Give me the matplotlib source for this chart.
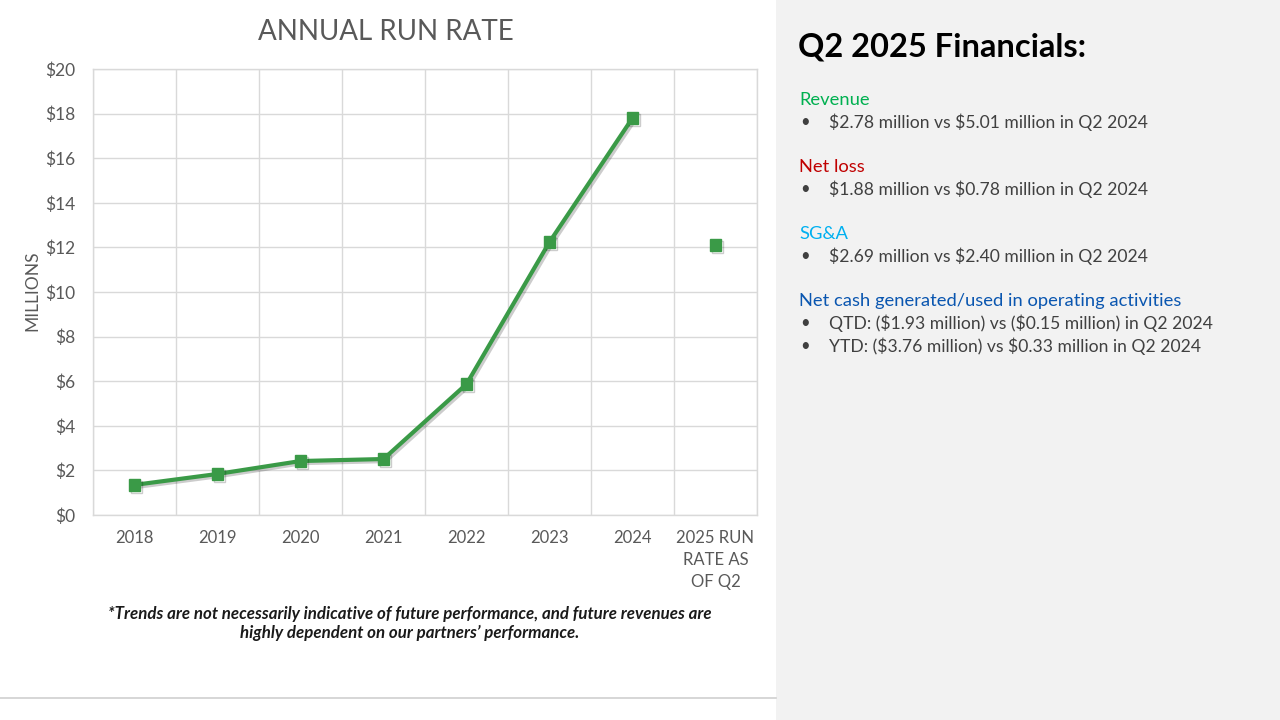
import matplotlib
matplotlib.use("Agg")
import matplotlib.pyplot as plt
import matplotlib.patheffects as pe
from matplotlib.patches import Rectangle
from matplotlib.lines import Line2D

plt.rcParams["text.parse_math"] = False
plt.rcParams["font.family"] = ["Lato", "DejaVu Sans"]

categories = ["2018", "2019", "2020", "2021", "2022", "2023", "2024", "2025 RUN\nRATE AS\nOF Q2"]
history_values = [1.35, 1.84, 2.42, 2.51, 5.87, 12.24, 17.80]
run_rate_2025 = 12.1
y_ticks = [0, 2, 4, 6, 8, 10, 12, 14, 16, 18, 20]
y_tick_labels = ["$%d" % v for v in y_ticks]

GREEN = "#3a9a47"
GRAY_TXT = "#595959"
GRID = "#d9d9d9"

fig = plt.figure(figsize=(12.8, 7.2), dpi=100)
fig.patch.set_facecolor("white")

# right panel background
fig.add_artist(Rectangle((776/1280, 0), 1 - 776/1280, 1, transform=fig.transFigure,
                         facecolor="#f2f2f2", edgecolor="none", zorder=0))
# bottom rule on the left
fig.add_artist(Line2D([0, 776/1280], [1 - 698/720]*2, transform=fig.transFigure,
                      color="#d0d0d0", lw=1.2))

ax = fig.add_axes([93/1280, 1 - 515/720, (757-93)/1280, (515-69)/720])
x = list(range(len(history_values)))
shadow = [pe.SimpleLineShadow(offset=(1.5, -1.5), shadow_color="#000000", alpha=0.2), pe.Normal()]
ax.plot(x, history_values, color=GREEN, lw=3, marker="s", ms=8.5, zorder=3,
        path_effects=shadow, solid_joinstyle="round")
ax.plot([len(categories) - 1], [run_rate_2025], color=GREEN, lw=0, marker="s", ms=8.5,
        zorder=3, path_effects=shadow)

ax.set_xlim(-0.5, len(categories) - 0.5)
ax.set_ylim(0, 20)
ax.set_yticks(y_ticks)
ax.set_yticklabels(y_tick_labels)
ax.set_xticks(range(len(categories)))
ax.set_xticklabels(categories, linespacing=1.45, va="top")
ax.set_xticks([i + 0.5 for i in range(-1, len(categories))], minor=True)
ax.grid(True, which="minor", axis="x", color=GRID, lw=1)
ax.grid(True, which="major", axis="y", color=GRID, lw=1)
ax.set_axisbelow(True)
for s in ax.spines.values():
    s.set_color(GRID)
    s.set_linewidth(1)
ax.tick_params(axis="both", which="both", length=0, colors=GRAY_TXT, labelsize=12)
ax.tick_params(axis="x", pad=11)
ax.tick_params(axis="y", pad=13)
for lab in ax.get_yticklabels():
    lab.set_fontsize(12.5)

fig.text(32/1280, 1 - 291/720, "MILLIONS", rotation=90, ha="center", va="center",
         color=GRAY_TXT, fontsize=12.5)
fig.text(386/1280, 1 - 32/720, "ANNUAL RUN RATE", ha="center", va="center",
         color=GRAY_TXT, fontsize=20)

fig.text(410/1280, 1 - 614/720,
         "*Trends are not necessarily indicative of future performance, and future revenues are",
         ha="center", va="center", fontsize=12.2, style="italic", fontweight="bold", color="#1a1a1a")
fig.text(410/1280, 1 - 633/720, "highly dependent on our partners\u2019 performance.",
         ha="center", va="center", fontsize=12.2, style="italic", fontweight="bold", color="#1a1a1a")

# right panel text
fig.text(798/1280, 1 - 47/720, "Q2 2025 Financials:", ha="left", va="center",
         fontsize=23.5, fontweight="bold", color="black")

sections = [
    ("Revenue", "#00b050", 100, ["$2.78 million vs $5.01 million in Q2 2024"]),
    ("Net loss", "#c00000", 167, ["$1.88 million vs $0.78 million in Q2 2024"]),
    ("SG&A", "#00b0f0", 234, ["$2.69 million vs $2.40 million in Q2 2024"]),
    ("Net cash generated/used in operating activities", "#0a56b0", 301,
     ["QTD: ($1.93 million) vs ($0.15 million) in Q2 2024",
      "YTD: ($3.76 million) vs $0.33 million in Q2 2024"]),
]
for head, col, yy, bullets in sections:
    fig.text(799/1280, 1 - yy/720, head, ha="left", va="center", fontsize=13.2, color=col)
    for i, b in enumerate(bullets):
        by = yy + 22 + i * 23
        fig.text(800/1280, 1 - by/720, "\u2022", ha="left", va="center", fontsize=12, color="#404040")
        fig.text(829/1280, 1 - by/720, b, ha="left", va="center", fontsize=12.6, color="#404040")

fig.savefig("out.png", dpi=100, facecolor=fig.get_facecolor())
